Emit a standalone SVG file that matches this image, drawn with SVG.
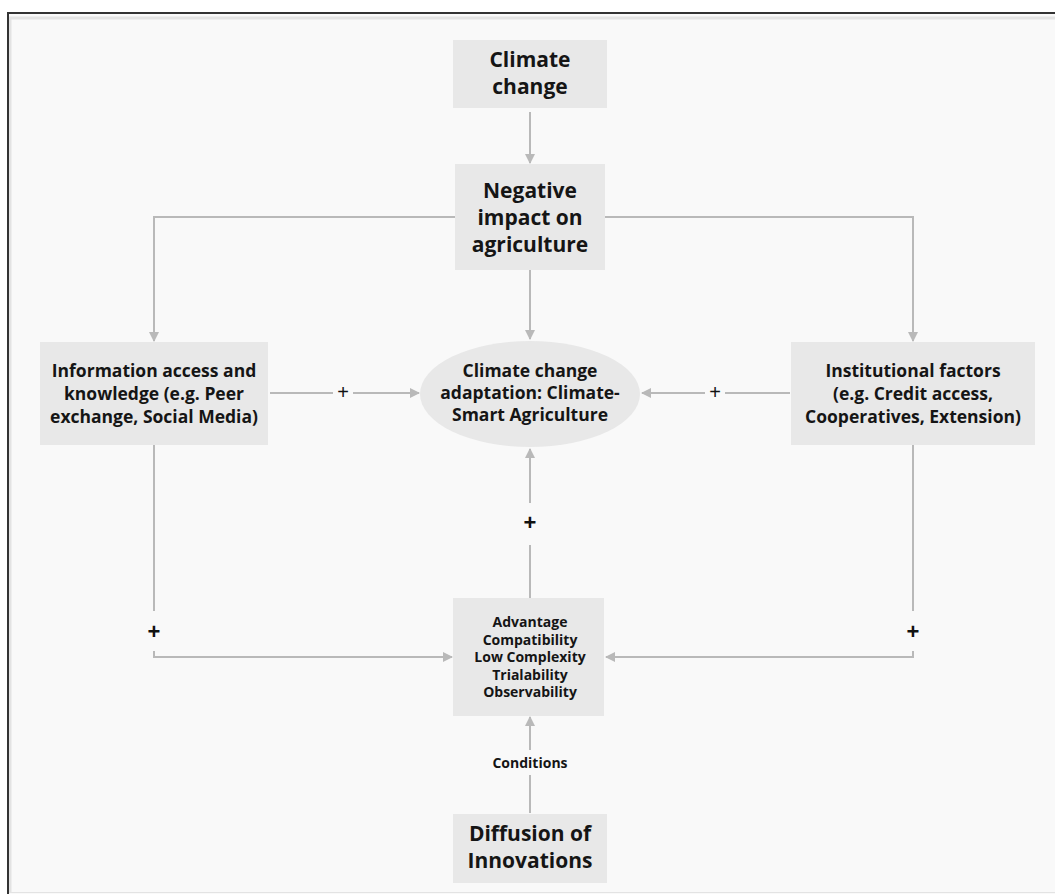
<svg xmlns="http://www.w3.org/2000/svg" width="1055" height="894" viewBox="0 0 1055 894">
<defs>
<style>
.box{fill:#e8e8e8}
.t{font-family:"Open Sans","Liberation Sans",sans-serif;font-weight:700;fill:#151515;text-anchor:middle}
.m{font-size:17.5px}
.s{font-size:14px}
.l{font-size:21px}
.c{fill:none;stroke:#b9b9b9;stroke-width:2}
.p{font-family:"Liberation Sans",sans-serif;fill:#111;text-anchor:middle}
</style>
<marker id="ah" viewBox="0 0 10 10" refX="9" refY="5" markerWidth="5" markerHeight="5" orient="auto" markerUnits="strokeWidth">
<path d="M0,0 L10,5 L0,10 z" fill="#b9b9b9"/>
</marker>
</defs>
<rect x="0" y="0" width="1055" height="894" fill="#ffffff"/>
<rect x="8" y="13" width="1060" height="890" fill="#f9f9f9"/>
<path d="M10,893 V18 H1055" fill="none" stroke="#e3e3e3" stroke-width="3"/>
<path d="M8,894 V13 H1055" fill="none" stroke="#333" stroke-width="2"/>
<line x1="10" y1="892.5" x2="1055" y2="892.5" stroke="#e3e3e3" stroke-width="1"/>

<g id="connectors">
<line class="c" x1="530" y1="112" x2="530" y2="163" marker-end="url(#ah)"/>
<polyline class="c" points="455,217 154,217 154,341" marker-end="url(#ah)"/>
<polyline class="c" points="605,217 913,217 913,341" marker-end="url(#ah)"/>
<line class="c" x1="530" y1="270" x2="530" y2="339" marker-end="url(#ah)"/>
<line class="c" x1="270" y1="393" x2="333" y2="393"/>
<line class="c" x1="353" y1="393" x2="419" y2="393" marker-end="url(#ah)"/>
<line class="c" x1="790" y1="393" x2="725" y2="393"/>
<line class="c" x1="705" y1="393" x2="642" y2="393" marker-end="url(#ah)"/>
<line class="c" x1="530" y1="598" x2="530" y2="545"/>
<line class="c" x1="530" y1="503" x2="530" y2="449" marker-end="url(#ah)"/>
<line class="c" x1="154" y1="445" x2="154" y2="611"/>
<polyline class="c" points="154,651 154,657 452,657" marker-end="url(#ah)"/>
<line class="c" x1="913" y1="445" x2="913" y2="611"/>
<polyline class="c" points="913,651 913,657 606,657" marker-end="url(#ah)"/>
<line class="c" x1="530" y1="813" x2="530" y2="775"/>
<line class="c" x1="530" y1="750" x2="530" y2="717" marker-end="url(#ah)"/>
<text class="p" x="343" y="399" font-size="20">+</text>
<text class="p" x="715" y="399" font-size="20">+</text>
<text class="p" x="530" y="530" font-size="22" font-weight="700">+</text>
<text class="p" x="154" y="639" font-size="22" font-weight="700">+</text>
<text class="p" x="913" y="639" font-size="22" font-weight="700">+</text>
<text class="t s" x="530" y="768">Conditions</text>
</g>

<g id="climate-change">
<rect class="box" x="453" y="40" width="154" height="68"/>
<text class="t l" x="530" y="67">Climate</text>
<text class="t l" x="530" y="94">change</text>
</g>

<g id="negative-impact">
<rect class="box" x="455" y="164" width="150" height="106"/>
<text class="t l" x="530" y="198">Negative</text>
<text class="t l" x="530" y="225">impact on</text>
<text class="t l" x="530" y="252">agriculture</text>
</g>

<g id="information-access">
<rect class="box" x="40" y="342" width="228" height="103"/>
<text class="t m" x="154" y="377">Information access and</text>
<text class="t m" x="154" y="400">knowledge (e.g. Peer</text>
<text class="t m" x="154" y="423">exchange, Social Media)</text>
</g>

<g id="adaptation">
<ellipse class="box" cx="530" cy="394" rx="110" ry="53"/>
<text class="t m" x="530" y="377">Climate change</text>
<text class="t m" x="530" y="399">adaptation: Climate-</text>
<text class="t m" x="530" y="421">Smart Agriculture</text>
</g>

<g id="institutional-factors">
<rect class="box" x="791" y="342" width="244" height="103"/>
<text class="t m" x="913" y="377">Institutional factors</text>
<text class="t m" x="913" y="400">(e.g. Credit access,</text>
<text class="t m" x="913" y="423">Cooperatives, Extension)</text>
</g>

<g id="attributes">
<rect class="box" x="453" y="598" width="151" height="118"/>
<text class="t s" x="530" y="627">Advantage</text>
<text class="t s" x="530" y="644.5">Compatibility</text>
<text class="t s" x="530" y="662">Low Complexity</text>
<text class="t s" x="530" y="679.5">Trialability</text>
<text class="t s" x="530" y="697">Observability</text>
</g>

<g id="diffusion">
<rect class="box" x="453" y="814" width="154" height="69"/>
<text class="t l" x="530" y="841">Diffusion of</text>
<text class="t l" x="530" y="868">Innovations</text>
</g>
</svg>
